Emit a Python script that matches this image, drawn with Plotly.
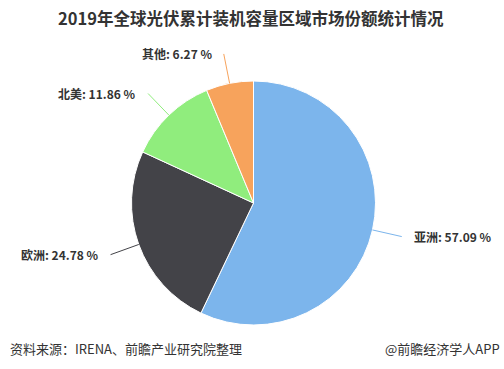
import math
import plotly.graph_objects as go

# ---- data ----
regions = ["亚洲", "欧洲", "北美", "其他"]
shares = [57.09, 24.78, 11.86, 6.27]
colors = ["#7cb5ec", "#434348", "#90ed7d", "#f7a35c"]
title_text = "2019年全球光伏累计装机容量区域市场份额统计情况"
source_text = "资料来源：IRENA、前瞻产业研究院整理"
brand_text = "@前瞻经济学人APP"

W, H = 504, 369
CX, CY, R = 253.5, 203, 122
LABEL_DIST = 30
FONT = "Noto Sans CJK SC, Microsoft YaHei, sans-serif"

fig = go.Figure()
fig.add_trace(go.Pie(
    labels=regions, values=shares, sort=False, direction="clockwise", rotation=0,
    marker=dict(colors=colors, line=dict(color="white", width=1)),
    textinfo="none", hoverinfo="label+percent", showlegend=False,
    domain=dict(x=[(CX - R) / W, (CX + R) / W], y=[(H - CY - R) / H, (H - CY + R) / H]),
))

# connectors & labels derived from the data angles
total = sum(shares)
cum = 0.0
shapes, annotations = [], []
for name, v, c in zip(regions, shares, colors):
    mid = (cum + v / 2) / total * 2 * math.pi
    cum += v
    sx, sy = math.sin(mid), -math.cos(mid)
    x0, y0 = CX + R * sx, CY + R * sy
    x1, y1 = CX + (R + LABEL_DIST) * sx, CY + (R + LABEL_DIST) * sy
    shapes.append(dict(type="line", xref="x", yref="y", x0=x0, y0=y0, x1=x1, y1=y1,
                       line=dict(color=c, width=1)))
    right = sx >= 0
    annotations.append(dict(
        x=x1 + (10 if right else -10), y=y1, xref="x", yref="y",
        xanchor="left" if right else "right", yanchor="middle",
        text=f"<b>{name}: {v:.2f} %</b>", showarrow=False,
        font=dict(family=FONT, size=12, color="#333333")))

annotations.append(dict(x=251, y=18, xref="x", yref="y", xanchor="center", yanchor="middle",
                        text=f"<b>{title_text}</b>", showarrow=False,
                        font=dict(family=FONT, size=16.5, color="#333333")))
annotations.append(dict(x=8, y=348, xref="x", yref="y", xanchor="left", yanchor="middle",
                        text=source_text, showarrow=False,
                        font=dict(family=FONT, size=13, color="#333333")))
annotations.append(dict(x=502, y=348, xref="x", yref="y", xanchor="right", yanchor="middle",
                        text=brand_text, showarrow=False,
                        font=dict(family=FONT, size=13, color="#333333")))

fig.update_layout(
    width=W, height=H, margin=dict(l=0, r=0, t=0, b=0),
    paper_bgcolor="white", plot_bgcolor="white",
    xaxis=dict(range=[0, W], visible=False, fixedrange=True),
    yaxis=dict(range=[H, 0], visible=False, fixedrange=True),
    shapes=shapes, annotations=annotations,
)
fig.write_html("out.html", config={"displayModeBar": False},
               post_script="document.body.style.margin='0';document.body.style.overflow='hidden';")
